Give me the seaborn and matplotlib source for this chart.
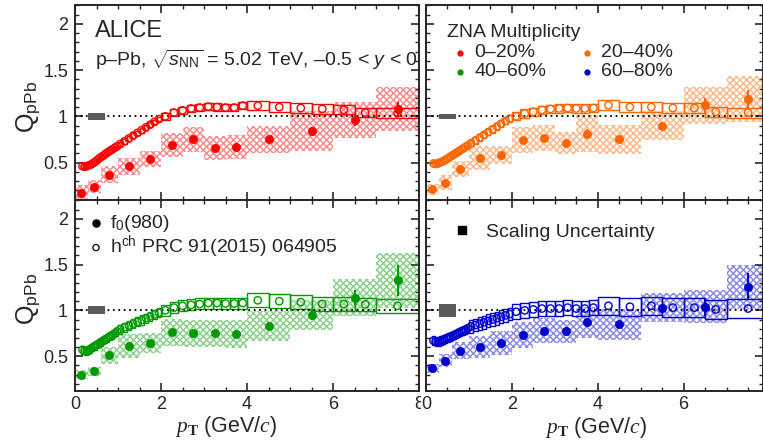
import matplotlib
matplotlib.use('Agg')
import matplotlib.pyplot as plt
from matplotlib.patches import Rectangle
from matplotlib.ticker import MultipleLocator, FuncFormatter
from matplotlib.transforms import Bbox
import seaborn as sns


# 1 : Data

hch_edges = [0.15, 0.2, 0.25, 0.3, 0.35, 0.4, 0.45, 0.5, 0.55, 0.6, 0.65, 0.7, 0.75, 0.8, 0.85, 0.9, 0.95,
             1.0, 1.1, 1.2, 1.3, 1.4, 1.5, 1.6, 1.7, 1.8, 1.9,
             2.0, 2.2, 2.4, 2.6, 2.8, 3.0, 3.2, 3.4, 3.6, 3.8,
             4.0, 4.5, 5.0, 5.5, 6.0, 6.5, 7.0, 8.0]
f0_edges = [0.0, 0.3, 0.6, 1.0, 1.5, 2.0, 2.5, 3.0, 3.5, 4.0, 5.0, 6.0, 7.0, 8.0]
f0_pt = [0.15, 0.45, 0.8, 1.25, 1.75, 2.25, 2.75, 3.25, 3.75, 4.5, 5.5, 6.5, 7.5]

# 0-20 %
red_f0 = [0.17, 0.24, 0.37, 0.46, 0.54, 0.685, 0.75, 0.66, 0.67, 0.75, 0.84, 0.96, 1.08]
red_f0_stat = [0.01, 0.01, 0.01, 0.01, 0.01, 0.015, 0.02, 0.02, 0.035, 0.02, 0.05, 0.06, 0.08]
red_f0_sys = [0.09, 0.07, 0.09, 0.09, 0.09, 0.13, 0.14, 0.13, 0.13, 0.15, 0.22, 0.19, 0.24]
red_hch = [0.46, 0.455, 0.46, 0.47, 0.48, 0.495, 0.51, 0.53, 0.55, 0.565, 0.58, 0.60, 0.615, 0.63, 0.645, 0.66, 0.675,
           0.70, 0.73, 0.76, 0.79, 0.82, 0.85, 0.88, 0.91, 0.94, 0.97,
           1.0, 1.04, 1.065, 1.085, 1.095, 1.105, 1.10, 1.095, 1.095, 1.115,
           1.115, 1.10, 1.09, 1.08, 1.07, 1.04, 1.035]
red_hch_sys = [0.02, 0.02, 0.02, 0.02, 0.02, 0.02, 0.02, 0.02, 0.02, 0.02, 0.02, 0.02, 0.02, 0.02, 0.02, 0.02, 0.02,
               0.025, 0.025, 0.025, 0.025, 0.025, 0.025, 0.025, 0.025, 0.025, 0.025,
               0.04, 0.04, 0.04, 0.04, 0.04, 0.04, 0.04, 0.04, 0.04, 0.04,
               0.05, 0.05, 0.05, 0.05, 0.05, 0.05, 0.05]
red_scale = 0.036

# 20-40 %
orange_f0 = [0.21, 0.28, 0.43, 0.55, 0.58, 0.74, 0.77, 0.71, 0.81, 0.75, 0.90, 1.12, 1.19]
orange_f0_stat = [0.01, 0.01, 0.01, 0.01, 0.01, 0.02, 0.02, 0.03, 0.05, 0.03, 0.03, 0.08, 0.1]
orange_f0_sys = [0.06, 0.08, 0.09, 0.13, 0.1, 0.14, 0.14, 0.12, 0.2, 0.16, 0.16, 0.2, 0.25]
orange_hch = [0.49, 0.485, 0.49, 0.50, 0.51, 0.52, 0.535, 0.55, 0.565, 0.58, 0.595, 0.61, 0.625, 0.64, 0.655, 0.67, 0.685,
              0.71, 0.74, 0.77, 0.80, 0.83, 0.86, 0.89, 0.92, 0.95, 0.975,
              1.0, 1.03, 1.05, 1.07, 1.08, 1.085, 1.09, 1.085, 1.085, 1.09,
              1.12, 1.10, 1.10, 1.09, 1.09, 1.05, 1.04]
orange_hch_sys = [0.025, 0.025, 0.025, 0.025, 0.025, 0.025, 0.025, 0.025, 0.025, 0.025, 0.025, 0.025, 0.025, 0.025,
                  0.025, 0.025, 0.025,
                  0.035, 0.035, 0.035, 0.035, 0.035, 0.035, 0.035, 0.035, 0.035, 0.035,
                  0.045, 0.045, 0.045, 0.045, 0.045, 0.045, 0.045, 0.045, 0.045, 0.045,
                  0.055, 0.055, 0.055, 0.055, 0.055, 0.055, 0.055]
orange_scale = 0.024

# 40-60 %
green_f0 = [0.30, 0.335, 0.51, 0.61, 0.64, 0.76, 0.75, 0.75, 0.74, 0.83, 0.95, 1.14, 1.33]
green_f0_stat = [0.01, 0.01, 0.01, 0.01, 0.01, 0.02, 0.03, 0.035, 0.045, 0.02, 0.05, 0.08, 0.17]
green_f0_sys = [0.05, 0.05, 0.09, 0.13, 0.11, 0.15, 0.15, 0.15, 0.15, 0.16, 0.16, 0.2, 0.3]
green_hch = [0.57, 0.56, 0.56, 0.57, 0.585, 0.60, 0.615, 0.63, 0.645, 0.66, 0.675, 0.69, 0.705, 0.72, 0.735, 0.75, 0.77,
             0.795, 0.815, 0.835, 0.855, 0.875, 0.895, 0.915, 0.935, 0.955, 0.975,
             1.0, 1.03, 1.05, 1.06, 1.07, 1.08, 1.08, 1.075, 1.075, 1.08,
             1.11, 1.10, 1.09, 1.07, 1.07, 1.065, 1.05]
green_hch_sys = [0.045, 0.045, 0.045, 0.045, 0.045, 0.045, 0.045, 0.045, 0.045, 0.045, 0.045, 0.045, 0.045, 0.045,
                 0.045, 0.045, 0.045,
                 0.05, 0.05, 0.05, 0.05, 0.05, 0.05, 0.05, 0.05, 0.05, 0.05,
                 0.06, 0.06, 0.06, 0.06, 0.06, 0.06, 0.06, 0.06, 0.06, 0.06,
                 0.075, 0.075, 0.075, 0.075, 0.075, 0.075, 0.075]
green_scale = 0.045

# 60-80 %
blue_f0 = [0.37, 0.45, 0.56, 0.60, 0.64, 0.73, 0.78, 0.77, 0.87, 0.85, 1.03, 1.04, 1.26]
blue_f0_stat = [0.01, 0.01, 0.01, 0.01, 0.01, 0.02, 0.02, 0.03, 0.035, 0.035, 0.04, 0.1, 0.15]
blue_f0_sys = [0.05, 0.07, 0.09, 0.12, 0.13, 0.14, 0.14, 0.13, 0.17, 0.17, 0.16, 0.18, 0.24]
blue_hch = [0.67, 0.66, 0.66, 0.665, 0.675, 0.685, 0.695, 0.705, 0.715, 0.725, 0.735, 0.745, 0.76, 0.77, 0.78, 0.79, 0.805,
            0.825, 0.84, 0.855, 0.87, 0.885, 0.90, 0.915, 0.93, 0.945, 0.96,
            0.985, 1.0, 1.01, 1.02, 1.02, 1.02, 1.03, 1.02, 1.02, 1.03,
            1.05, 1.04, 1.05, 1.03, 1.03, 1.01, 1.02]
blue_hch_sys = [0.05, 0.05, 0.05, 0.05, 0.05, 0.05, 0.05, 0.05, 0.05, 0.05, 0.05, 0.05, 0.05, 0.05, 0.05, 0.05, 0.05,
                0.07, 0.07, 0.07, 0.07, 0.07, 0.07, 0.07, 0.07, 0.07, 0.07,
                0.08, 0.08, 0.08, 0.08, 0.08, 0.08, 0.08, 0.08, 0.08, 0.08,
                0.1, 0.1, 0.1, 0.1, 0.1, 0.1, 0.1]
blue_scale = 0.068

colors = {'red': '#ff0000', 'orange': '#ff6600', 'green': '#009900', 'blue': '#0000cc'}
class_labels = ['0–20%', '20–40%', '40–60%', '60–80%']


# 2 : Style

sns.set_style('ticks')
plt.rcParams['font.family'] = ['Liberation Sans', 'DejaVu Sans']
plt.rcParams['mathtext.fontset'] = 'custom'
plt.rcParams['mathtext.rm'] = 'Liberation Sans'
plt.rcParams['mathtext.it'] = 'Liberation Serif:italic'
plt.rcParams['mathtext.bf'] = 'Liberation Serif:bold'
plt.rcParams['mathtext.sf'] = 'Liberation Sans:italic'
plt.rcParams['axes.linewidth'] = 1.4
plt.rcParams['hatch.linewidth'] = 1.1


def draw_panel(ax, color, f0_val, f0_stat, f0_sys, hch_val, hch_sys, scale_unc):
    hch_pt = [(lo + hi) / 2 for lo, hi in zip(hch_edges[:-1], hch_edges[1:])]
    # f0 systematics (hatched)
    for lo, hi, v, s in zip(f0_edges[:-1], f0_edges[1:], f0_val, f0_sys):
        ax.add_patch(Rectangle((lo, v - s), hi - lo, 2 * s, facecolor='none', edgecolor=color,
                               hatch='xxxxx', lw=0, alpha=0.45, zorder=1))
    # h^ch systematics (open boxes)
    for lo, hi, v, s in zip(hch_edges[:-1], hch_edges[1:], hch_val, hch_sys):
        ax.add_patch(Rectangle((lo, v - s), hi - lo, 2 * s, fill=False, edgecolor=color, lw=1.0, zorder=2))
    ax.axhline(1, color='black', ls=(0, (1, 2)), lw=1.3, zorder=3)
    ax.add_patch(Rectangle((0.3, 1 - scale_unc), 0.4, 2 * scale_unc, facecolor='#5a5a5a', lw=0, zorder=4))
    ax.errorbar(f0_pt, f0_val, yerr=f0_stat, fmt='none', ecolor=color, elinewidth=1.6, zorder=5)
    sns.scatterplot(x=f0_pt, y=f0_val, ax=ax, color=color, edgecolor=color, s=36, zorder=6, legend=False)
    sns.scatterplot(x=hch_pt, y=hch_val, ax=ax, color=color, facecolors='none', edgecolor=color,
                    linewidth=1.0, s=28, zorder=6, legend=False)


def style_axis(ax, xmax, ylo, show_x, show_y):
    ax.set_xlim(0, xmax)
    ax.set_ylim(ylo, 2.205)
    ax.xaxis.set_major_locator(MultipleLocator(2))
    ax.xaxis.set_minor_locator(MultipleLocator(0.5))
    ax.yaxis.set_major_locator(MultipleLocator(0.5))
    ax.yaxis.set_minor_locator(MultipleLocator(0.1))
    fmt = FuncFormatter(lambda v, p: f'{v:g}')
    ax.xaxis.set_major_formatter(fmt)
    ax.yaxis.set_major_formatter(fmt)
    ax.tick_params(which='both', direction='in', top=True, right=True, labelsize=13, pad=5,
                   labelbottom=show_x, labelleft=show_y)
    ax.tick_params(axis='x', pad=3.5)
    ax.tick_params(which='major', length=5.5, width=1.2)
    ax.tick_params(which='minor', length=3, width=1.0)
    ax.set_xlabel('')
    ax.set_ylabel('')
    for sp in ax.spines.values():
        sp.set_visible(True)


# 3 : Figure

fig = plt.figure(figsize=(7.63, 4.47), dpi=100)
ax_tl = fig.add_axes([0.0983, 0.5526, 0.4509, 0.4363])
ax_tr = fig.add_axes([0.5583, 0.5526, 0.4417, 0.4363])
ax_bl = fig.add_axes([0.0983, 0.1253, 0.4509, 0.4273])
ax_br = fig.add_axes([0.5583, 0.1253, 0.4417, 0.4273])

draw_panel(ax_tl, colors['red'], red_f0, red_f0_stat, red_f0_sys, red_hch, red_hch_sys, red_scale)
draw_panel(ax_tr, colors['orange'], orange_f0, orange_f0_stat, orange_f0_sys, orange_hch, orange_hch_sys, orange_scale)
draw_panel(ax_bl, colors['green'], green_f0, green_f0_stat, green_f0_sys, green_hch, green_hch_sys, green_scale)
draw_panel(ax_br, colors['blue'], blue_f0, blue_f0_stat, blue_f0_sys, blue_hch, blue_hch_sys, blue_scale)

style_axis(ax_tl, 8, 0.095, False, True)
style_axis(ax_tr, 7.85, 0.095, False, False)
style_axis(ax_bl, 8, 0.12, True, True)
style_axis(ax_br, 7.85, 0.12, True, False)

# the "8" of the lower-left panel is cut where the right panel starts
fig.canvas.draw()
for lab in ax_bl.get_xticklabels():
    if lab.get_text() == '8':
        lab.set_clip_box(Bbox.from_extents(0, 0, 421, 447))
        lab.set_clip_on(True)

# axis titles
for ax, yc in [(ax_tl, 0.477), (ax_bl, 0.48)]:
    ax.text(-0.134, yc, r'Q$_{\mathrm{pPb}}$', transform=ax.transAxes, rotation=90,
            ha='center', va='center', fontsize=18)
ax_bl.text(0.439, -0.215, r'$p_{\mathbf{T}}$ (GeV/$c$)', transform=ax_bl.transAxes,
           ha='center', va='baseline', fontsize=15.5)
ax_br.text(0.504, -0.222, r'$p_{\mathbf{T}}$ (GeV/$c$)', transform=ax_br.transAxes,
           ha='center', va='baseline', fontsize=15.5)

# top-left labels
ax_tl.text(0.058, 0.834, 'ALICE', transform=ax_tl.transAxes, fontsize=17, va='baseline')
ax_tl.text(0.058, 0.689, r'p–Pb, $\sqrt{\mathsf{s}_{\mathrm{NN}}}$ = 5.02 TeV, –0.5 < $\mathsf{y}$ < 0',
           transform=ax_tl.transAxes, fontsize=14, va='baseline')

# multiplicity legend
ax_tr.text(0.061, 0.834, 'ZNA Multiplicity', transform=ax_tr.transAxes, fontsize=14, va='baseline')
legend_pos = [(0.101, 0.755), (0.477, 0.755), (0.101, 0.658), (0.477, 0.658)]
for (lx, ly), key, lab in zip(legend_pos, ['red', 'orange', 'green', 'blue'], class_labels):
    ax_tr.scatter([lx], [ly], s=12, color=colors[key], transform=ax_tr.transAxes, clip_on=False, zorder=7)
    ax_tr.text(lx + 0.043, ly - 0.02, lab, transform=ax_tr.transAxes, fontsize=14, va='baseline')

# particle legend
ax_bl.scatter([0.061], [0.878], s=26, color='black', transform=ax_bl.transAxes, zorder=7)
ax_bl.text(0.102, 0.852, r'f$_{0}$(980)', transform=ax_bl.transAxes, fontsize=14, va='baseline')
ax_bl.scatter([0.061], [0.751], s=20, facecolors='none', edgecolors='black', linewidths=0.9,
              transform=ax_bl.transAxes, zorder=7)
ax_bl.text(0.102, 0.724, r'h$^{\mathrm{ch}}$ PRC 91(2015) 064905', transform=ax_bl.transAxes,
           fontsize=14, va='baseline')

# scaling uncertainty legend
ax_br.scatter([0.108], [0.843], s=30, marker='s', color='black', transform=ax_br.transAxes, zorder=7)
ax_br.text(0.178, 0.805, 'Scaling Uncertainty', transform=ax_br.transAxes, fontsize=14, va='baseline')

fig.savefig('out.png', dpi=100)
